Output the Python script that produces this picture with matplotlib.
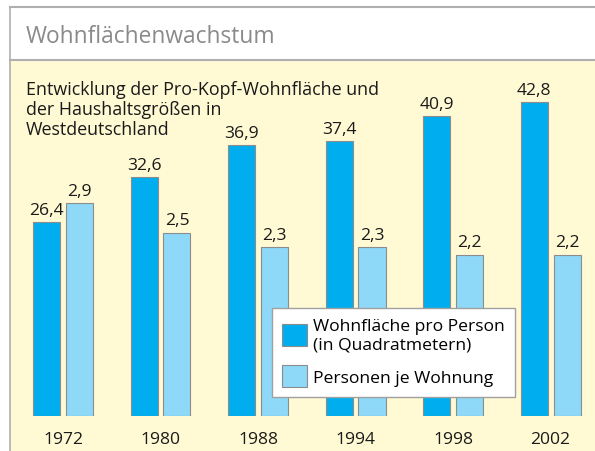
import matplotlib.pyplot as plt
import numpy as np
from matplotlib.patches import Rectangle
from matplotlib.lines import Line2D

# Daten
jahre = ['1972', '1980', '1988', '1994', '1998', '2002']
wohnflaeche = [26.4, 32.6, 36.9, 37.4, 40.9, 42.8]
personen = [2.9, 2.5, 2.3, 2.3, 2.2, 2.2]

titel = 'Wohnflächenwachstum'
untertitel = ['Entwicklung der Pro-Kopf-Wohnfläche und',
              'der Haushaltsgrößen in',
              'Westdeutschland']
label_a = 'Wohnfläche pro Person\n(in Quadratmetern)'
label_b = 'Personen je Wohnung'

dunkel = '#00AEEF'
hell = '#8ED8F8'
gelb = '#FFF9D4'
rand = '#AFAFAF'
W, H = 595, 452
fs = 12.6

plt.rcParams['font.family'] = ['Open Sans', 'DejaVu Sans']

fig = plt.figure(figsize=(W / 100, H / 100), dpi=100)

def fx(px):
    return px / W

def fy(py):
    return 1 - py / H

# Rahmen / Kopfzeile
fig.patches.append(Rectangle((fx(10), 0), 1, fy(61), transform=fig.transFigure,
                             facecolor=gelb, edgecolor='none', zorder=-2))
fig.patches.append(Rectangle((fx(10), fy(61)), 1, fy(8) - fy(61), transform=fig.transFigure,
                             facecolor='white', edgecolor='none', zorder=-2))
for xs, ys, lw in [([10, 595], [8, 8], 1.5), ([10, 595], [61, 61], 1.5), ([10, 10], [8, 452], 1.2)]:
    fig.lines.append(Line2D([fx(x) for x in xs], [fy(y) for y in ys], color=rand,
                            lw=lw, transform=fig.transFigure, zorder=-1))

fig.text(fx(26), fy(37), titel, fontsize=16.4, color='#8A8A8A', va='center', ha='left')
for i, zeile in enumerate(untertitel):
    fig.text(fx(26), fy(90 + 20 * i), zeile, fontsize=12.9, color='#1A1A1A',
             va='center', ha='left')

# Achsen
ax = fig.add_axes([fx(10), fy(417), fx(595) - fx(10), fy(61) - fy(417)])
ax.patch.set_alpha(0)
ax2 = ax.twinx()

x = np.arange(len(jahre))
bw = 0.277
off = 0.169
b1 = ax.bar(x - off, wohnflaeche, bw, color=dunkel, edgecolor='#8C8C8C', linewidth=0.8)
b2 = ax2.bar(x + off, personen, bw, color=hell, edgecolor='#8C8C8C', linewidth=0.8)

ax.set_ylim(0, (417 - 61) / 7.34)
ax2.set_ylim(0, (417 - 61) / 73.4)
ax.set_xlim(-0.5436, 5.456)

for a in (ax, ax2):
    for s in a.spines.values():
        s.set_visible(False)
    a.set_yticks([])
ax.set_xticks(x)
ax.set_xticklabels(jahre, fontsize=fs, color='#1A1A1A')
ax.tick_params(axis='x', length=0, pad=11)

ax.bar_label(b1, labels=[f'{v:.1f}'.replace('.', ',') for v in wohnflaeche],
             padding=3, fontsize=fs, color='#1A1A1A')
ax2.bar_label(b2, labels=[f'{v:.1f}'.replace('.', ',') for v in personen],
              padding=3, fontsize=fs, color='#1A1A1A')

leg = ax2.legend([b1, b2], [label_a, label_b], loc='upper left',
                 bbox_to_anchor=(fx(272), fy(309)), bbox_transform=fig.transFigure,
                 fontsize=fs, frameon=True, fancybox=False, edgecolor='#A0A0A0',
                 handlelength=1.45, handleheight=1.55, handletextpad=0.35,
                 borderpad=0.55, labelspacing=0.75, borderaxespad=0)
leg.get_frame().set_linewidth(1.0)
leg.get_frame().set_alpha(1)

fig.savefig('out.png', dpi=100)
